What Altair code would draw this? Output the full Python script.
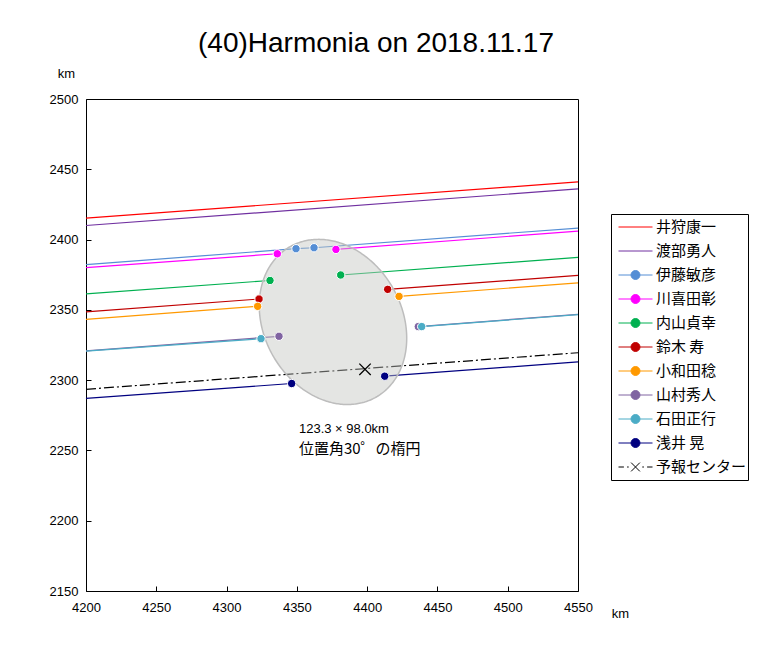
import numpy as np
import pandas as pd
import altair as alt

TITLE = "(40)Harmonia on 2018.11.17"
x_ticks = [4200, 4250, 4300, 4350, 4400, 4450, 4500, 4550]
y_ticks = [2150, 2200, 2250, 2300, 2350, 2400, 2450, 2500]

observers = ["井狩康一", "渡部勇人", "伊藤敏彦", "川喜田彰", "内山貞幸",
             "鈴木 寿", "小和田稔", "山村秀人", "石田正行", "浅井 晃"]
colors = ["#FF0000", "#7030A0", "#558ED5", "#FF00FF", "#00B050",
          "#C00000", "#FF9900", "#8064A2", "#4BACC6", "#000080"]
# chord y at the left (4200 km) and right (4550 km) edges
y_left = [2415.3, 2410.0, 2382.2, 2380.0, 2361.3, 2348.5, 2343.2, 2320.8, 2320.6, 2287.0]
y_right = [2441.0, 2436.0, 2408.2, 2406.0, 2387.3, 2374.5, 2369.2, 2346.8, 2346.6, 2313.0]
# disappearance / reappearance points
d_x = [None, None, 4349.4, 4336.1, 4330.9, 4323.1, 4322.1, 4337.3, 4324.5, 4346.3]
d_y = [None, None, 2393.5, 2389.9, 2370.9, 2357.7, 2352.5, 2331.2, 2329.5, 2297.6]
r_x = [None, None, 4362.2, 4377.8, 4381.2, 4414.6, 4422.7, 4436.4, 4438.8, 4412.5]
r_y = [None, None, 2394.2, 2393.0, 2374.8, 2364.6, 2359.6, 2338.1, 2338.1, 2302.8]

forecast_name = "予報センター"
forecast_y_left = 2293.5
forecast_y_right = 2319.5
forecast_x = 4398.5
forecast_y = 2307.7

ell_cx, ell_cy = 4375.7, 2341.4
ell_major, ell_minor = 123.3, 98.0
ell_pa = 30.0
note1 = "123.3 × 98.0km"
note2 = "位置角30゜の楕円"
note_x = 4351.5
note1_y = 2265.2
note2_y = 2251.0

X_MIN, X_MAX = 4200, 4550
Y_MIN, Y_MAX = 2150, 2500

# ---- build tables ----
seg_rows = []
dot_rows = []
for i, nm in enumerate(observers):
    c = colors[i]
    if d_x[i] is None:
        seg_rows += [dict(name=nm, color=c, seg=f"{i}a", k=0, x=X_MIN, y=y_left[i]),
                     dict(name=nm, color=c, seg=f"{i}a", k=1, x=X_MAX, y=y_right[i])]
    else:
        seg_rows += [dict(name=nm, color=c, seg=f"{i}a", k=0, x=X_MIN, y=y_left[i]),
                     dict(name=nm, color=c, seg=f"{i}a", k=1, x=d_x[i], y=d_y[i]),
                     dict(name=nm, color=c, seg=f"{i}b", k=0, x=r_x[i], y=r_y[i]),
                     dict(name=nm, color=c, seg=f"{i}b", k=1, x=X_MAX, y=y_right[i])]
        if nm == "伊藤敏彦":
            seg_rows += [dict(name=nm, color=c, seg=f"{i}c", k=0, x=d_x[i], y=d_y[i]),
                         dict(name=nm, color=c, seg=f"{i}c", k=1, x=r_x[i], y=r_y[i])]
        dot_rows += [dict(name=nm, color=c, x=d_x[i], y=d_y[i]),
                     dict(name=nm, color=c, x=r_x[i], y=r_y[i])]
segs = pd.DataFrame(seg_rows)
dots = pd.DataFrame(dot_rows)
fc_line = pd.DataFrame({"x": [X_MIN, X_MAX], "y": [forecast_y_left, forecast_y_right],
                        "name": [forecast_name] * 2})
fc_pt = pd.DataFrame({"x": [forecast_x], "y": [forecast_y]})

# ellipse from its parameters
a, b = ell_major / 2, ell_minor / 2
phi = np.radians(ell_pa)
ux, uy = -np.sin(phi), np.cos(phi)
vx, vy = np.cos(phi), np.sin(phi)
t = np.linspace(0, 2 * np.pi, 361)
outline = pd.DataFrame({"x": ell_cx + a * np.cos(t) * ux + b * np.sin(t) * vx,
                        "y": ell_cy + a * np.cos(t) * uy + b * np.sin(t) * vy,
                        "k": np.arange(len(t))})
hw = np.sqrt(a ** 2 * ux ** 2 + b ** 2 * vx ** 2)
dxs = hw * np.cos(np.linspace(np.pi, 0, 301))
A = uy ** 2 / a ** 2 + vy ** 2 / b ** 2
B = 2 * dxs * (ux * uy / a ** 2 + vx * vy / b ** 2)
C = dxs ** 2 * (ux ** 2 / a ** 2 + vx ** 2 / b ** 2) - 1
disc = np.sqrt(np.clip(B ** 2 - 4 * A * C, 0, None))
fill_df = pd.DataFrame({"x": ell_cx + dxs,
                        "y": ell_cy + (-B - disc) / (2 * A),
                        "y2": ell_cy + (-B + disc) / (2 * A)})

notes1 = pd.DataFrame({"x": [note_x], "y": [note1_y], "t": [note1]})
notes2 = pd.DataFrame({"x": [note_x], "y": [note2_y], "t": [note2]})

# ---- scales / axes ----
xs = alt.Scale(domain=[X_MIN, X_MAX], nice=False, zero=False)
ys = alt.Scale(domain=[Y_MIN, Y_MAX], nice=False, zero=False)
xaxis = alt.Axis(values=x_ticks, title="km", grid=False, domain=False, offset=-5,
                 tickSize=5, tickColor="black", labelFlush=False, labelOverlap=False,
                 labelFont="Liberation Sans", labelFontSize=13, labelColor="black",
                 labelPadding=10, titleFont="Liberation Sans", titleFontSize=13,
                 titleFontWeight="normal", titleColor="black", titleX=534, titleY=27,
                 titleAlign="center", titleBaseline="middle", format="d")
yaxis = alt.Axis(values=y_ticks, title="km", grid=False, domain=False, offset=-5,
                 tickSize=5, tickColor="black", labelFlush=False, labelOverlap=False,
                 labelFont="Liberation Sans", labelFontSize=13, labelColor="black",
                 labelPadding=8, titleFont="Liberation Sans", titleFontSize=13,
                 titleFontWeight="normal", titleColor="black", titleAngle=0,
                 titleX=-25, titleY=-26, titleAlign="center", titleBaseline="middle",
                 format="d")
X = alt.X("x:Q", scale=xs, axis=xaxis)
Y = alt.Y("y:Q", scale=ys, axis=yaxis)

chords = alt.Chart(segs).mark_line(strokeWidth=1.2).encode(
    x=X, y=Y, detail="seg:N", order="k:Q", stroke=alt.Stroke("color:N", scale=None))
fc = alt.Chart(fc_line).mark_line(strokeWidth=1.2, color="black",
                                  strokeDash=[10, 3, 2, 3]).encode(x=X, y=Y)
ell_fill = alt.Chart(fill_df).mark_area(color="#C3C6C0", opacity=0.45).encode(
    x=X, y=Y, y2="y2:Q")
ell_line = alt.Chart(outline).mark_line(color="#BDBDBD", strokeWidth=1.5).encode(
    x=X, y=Y, order="k:Q")
dot_layer = alt.Chart(dots).mark_point(filled=True, shape="circle", size=70, opacity=1,
                                       stroke="white", strokeWidth=1).encode(
    x=X, y=Y, fill=alt.Fill("color:N", scale=None))
cross = alt.Chart(fc_pt).mark_point(shape="M-1,-1L1,1M-1,1L1,-1", size=130, filled=False,
                                    stroke="black", strokeWidth=1.3, opacity=1).encode(x=X, y=Y)
t1 = alt.Chart(notes1).mark_text(align="left", baseline="middle", font="Liberation Sans",
                                 fontSize=13, color="black").encode(x=X, y=Y, text="t:N")
t2 = alt.Chart(notes2).mark_text(align="left", baseline="middle", font="Noto Sans CJK JP",
                                 fontSize=15, color="black").encode(x=X, y=Y, text="t:N")

# ---- legend (symbols built as line + dot paths) ----
L = 2.125
dot = "M-0.56,0A0.56,0.56 0 1,0 0.56,0A0.56,0.56 0 1,0 -0.56,0Z"
line_only = f"M{-L},0H{L}"
line_dot = line_only + dot
dash_x = (f"M{-L},0H-1.45M-1.05,0H-0.85M0.85,0H1.05M1.45,0H{L}"
          "M-0.55,-0.55L0.55,0.55M-0.55,0.55L0.55,-0.55")
leg_names = observers + [forecast_name]
leg_colors = colors + ["#000000"]
leg_shapes = [line_only, line_only] + [line_dot] * 8 + [dash_x]
legend = alt.Legend(orient="none", legendX=525, legendY=115, title=None,
                    strokeColor="black", fillColor="white", padding=1,
                    symbolSize=256, symbolStrokeWidth=1, clipHeight=24, rowPadding=0,
                    symbolOffset=15, labelOffset=12, labelFont="Noto Sans CJK JP",
                    labelFontSize=15, labelColor="black", labelLimit=0)
leg_layer = alt.Chart(segs).transform_filter("false").mark_point(opacity=1).encode(
    x=X, y=Y,
    fill=alt.Fill("name:N", scale=alt.Scale(domain=leg_names, range=leg_colors), legend=legend),
    stroke=alt.Stroke("name:N", scale=alt.Scale(domain=leg_names, range=leg_colors), legend=legend),
    shape=alt.Shape("name:N", scale=alt.Scale(domain=leg_names, range=leg_shapes), legend=legend),
)

chart = alt.layer(chords, fc, ell_fill, ell_line, dot_layer, cross, t1, t2, leg_layer).properties(
    width=492, height=492,
    background="white",
    autosize=alt.AutoSizeParams(type="none"),
    padding={"left": 78, "top": 91, "right": 175, "bottom": 64},
    title=alt.TitleParams(TITLE, font="Liberation Sans", fontSize=28, fontWeight="normal",
                          color="black", anchor="middle", frame="group", dx=44, dy=27,
                          baseline="alphabetic", offset=14),
).configure_view(stroke="black", strokeWidth=1)

chart.save("out.html", embed_options={"renderer": "svg", "actions": False})
